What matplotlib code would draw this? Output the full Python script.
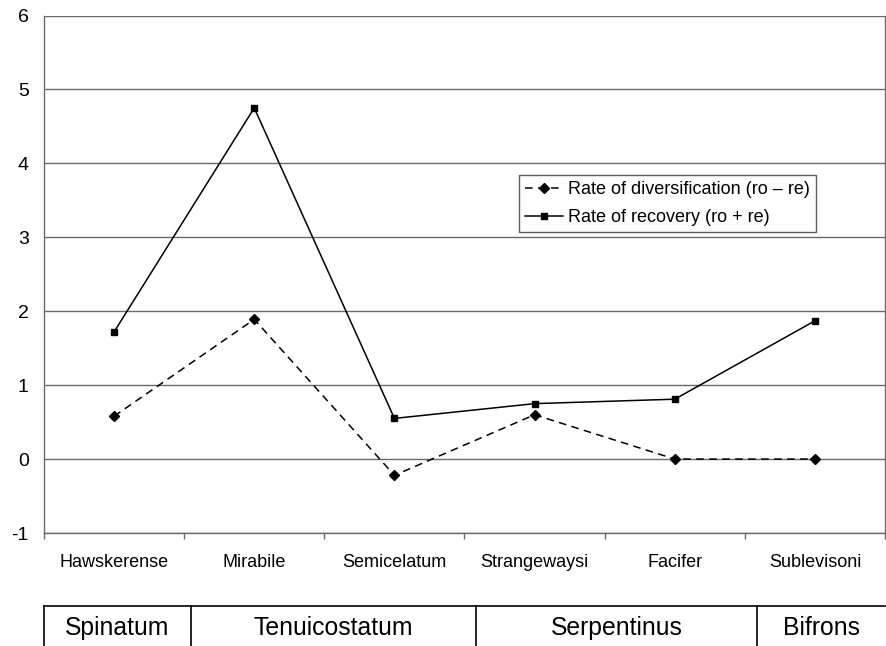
import matplotlib
matplotlib.use("Agg")
import matplotlib.pyplot as plt
import numpy as np

plt.rcParams['font.family'] = ['Liberation Sans', 'DejaVu Sans']

categories = ['Hawskerense', 'Mirabile', 'Semicelatum', 'Strangewaysi', 'Facifer', 'Sublevisoni']
diversification = [0.58, 1.89, -0.22, 0.60, 0.0, 0.0]
recovery = [1.72, 4.75, 0.55, 0.75, 0.81, 1.87]
y_ticks = [-1, 0, 1, 2, 3, 4, 5, 6]
zones = ['Spinatum', 'Tenuicostatum', 'Serpentinus', 'Bifrons']
zone_edges = [-0.5, 0.55, 2.58, 4.59, 5.5]

W, H = 886, 646
fig = plt.figure(figsize=(W / 100, H / 100), dpi=100)
L, R, T, B = 44, 885, 15.5, 533
ax = fig.add_axes([L / W, (H - B) / H, (R - L) / W, (B - T) / H])

x = np.arange(len(categories))
grid_c = '#6a6a6a'

for yv in y_ticks:
    ax.axhline(yv, color=grid_c, lw=1.0, zorder=1)

ax.plot(x, diversification, color='black', lw=1.1, ls=(0, (5, 3.5)),
        marker='D', ms=5, mfc='black', mec='black', zorder=3,
        label='Rate of diversification (ro \u2013 re)')
ax.plot(x, recovery, color='black', lw=1.1, ls='-',
        marker='s', ms=5, mfc='black', mec='black', zorder=3,
        label='Rate of recovery (ro + re)')

ax.set_xlim(-0.5, len(categories) - 0.5)
ax.set_ylim(-1, 6)
ax.set_yticks(y_ticks)
ax.set_yticklabels([str(v) for v in y_ticks], fontsize=14)
ax.tick_params(axis='y', length=0, pad=11)
ax.set_xticks(x)
ax.set_xticklabels(categories, fontsize=13)
ax.tick_params(axis='x', which='major', length=0, pad=15)
ax.set_xticks(np.arange(-0.5, len(categories)), minor=True)
ax.tick_params(axis='x', which='minor', length=4, width=1, color=grid_c, direction='out')

for s in ['left', 'right', 'bottom', 'top']:
    ax.spines[s].set_color(grid_c)
    ax.spines[s].set_linewidth(1.0)
ax.spines['top'].set_visible(False)

leg = ax.legend(loc='upper left', bbox_to_anchor=((519 - L) / (R - L), (B - 175) / (B - T)),
                borderaxespad=0, fancybox=False, frameon=True, fontsize=13,
                handlelength=2.1, handletextpad=0.25, labelspacing=0.6,
                borderpad=0.35, markerscale=1.0)
leg.get_frame().set_edgecolor('#333333')
leg.get_frame().set_linewidth(1.0)

# zone table
tax = fig.add_axes([L / W, 0, (R - L) / W, (H - 606) / H])
tax.set_xlim(-0.5, len(categories) - 0.5)
tax.set_ylim(0, 1)
tax.axis('off')
tax.axhline(1, color='black', lw=1.2, clip_on=False)
for e in zone_edges[:-1]:
    tax.plot([e, e], [0, 1], color='black', lw=1.2, clip_on=False)
for i, z in enumerate(zones):
    tax.text((zone_edges[i] + zone_edges[i + 1]) / 2, 0.45, z, ha='center', va='center', fontsize=17.8)

fig.savefig('out.png', dpi=100)
